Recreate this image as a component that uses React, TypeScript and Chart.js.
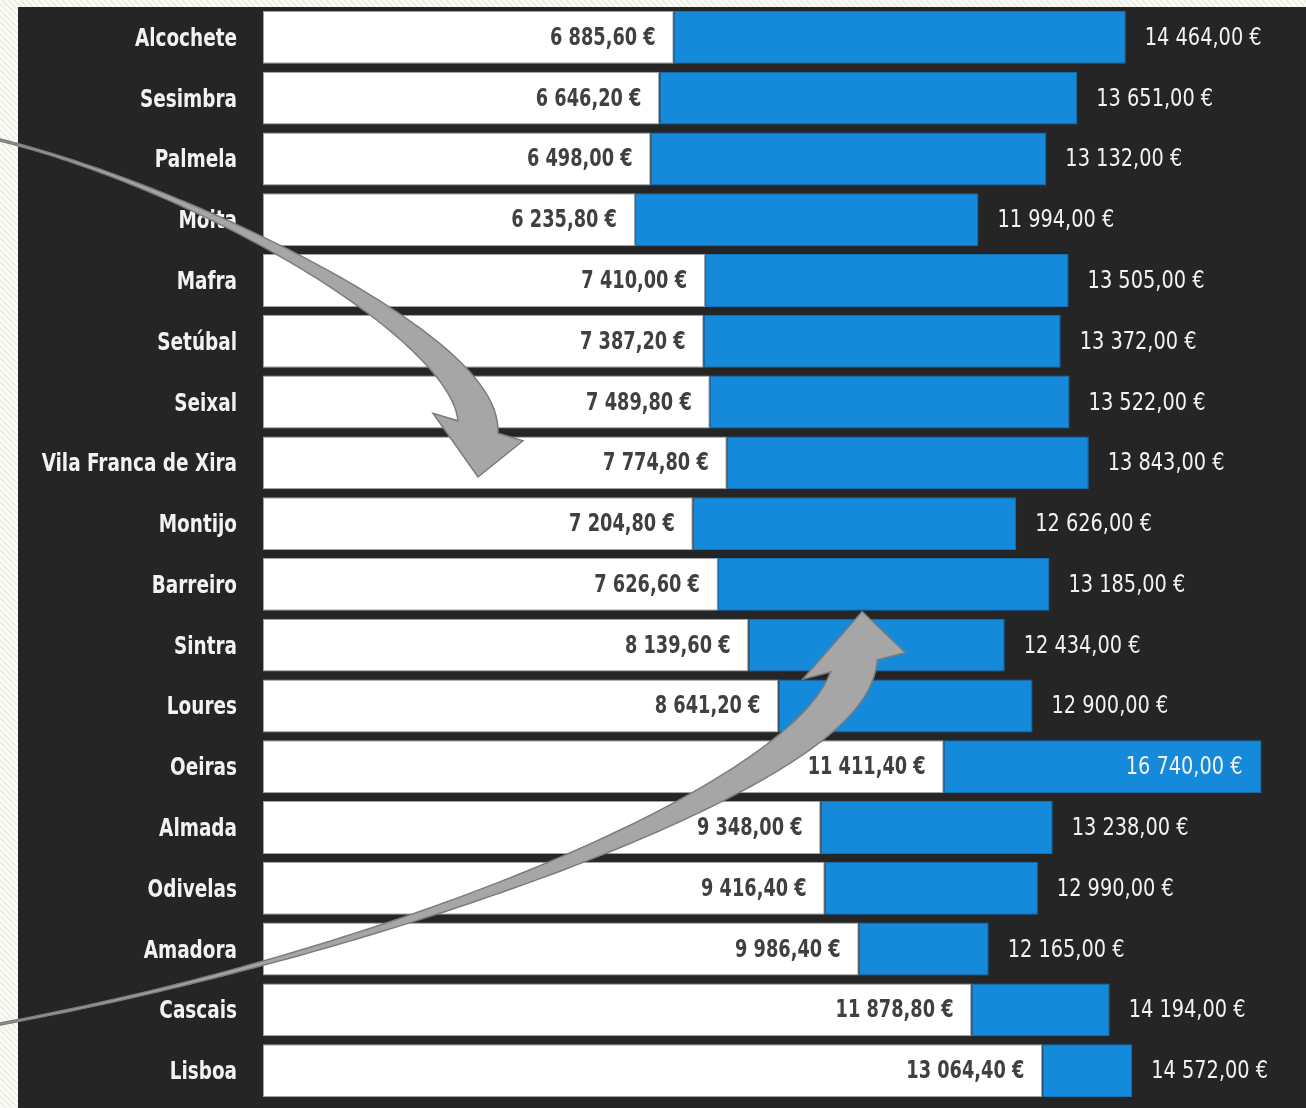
import React, { useEffect, useRef } from "react";
import { Chart, registerables } from "chart.js";

Chart.register(...registerables);

// ---------- data ----------
const categories = [
  "Alcochete", "Sesimbra", "Palmela", "Moita", "Mafra", "Setúbal", "Seixal",
  "Vila Franca de Xira", "Montijo", "Barreiro", "Sintra", "Loures", "Oeiras",
  "Almada", "Odivelas", "Amadora", "Cascais", "Lisboa",
];
const lowerValues = [
  6885.6, 6646.2, 6498.0, 6235.8, 7410.0, 7387.2, 7489.8, 7774.8, 7204.8,
  7626.6, 8139.6, 8641.2, 11411.4, 9348.0, 9416.4, 9986.4, 11878.8, 13064.4,
];
const upperValues = [
  14464, 13651, 13132, 11994, 13505, 13372, 13522, 13843, 12626, 13185,
  12434, 12900, 16740, 13238, 12990, 12165, 14194, 14572,
];
const axisMin = 0;
const axisMax = 17200;

// decorative curved arrows, given in data space (x = €, y = category index)
const arrowDown = {
  p: [[-4409, 1.688], [-1056, 2.511], [3604, 4.979], [3604, 6.41]],
  tailW: 2, endW: 42, barb: 47, head: 50, headRot: 17,
};
const arrowUp = {
  p: [[-4409, 16.232], [2297, 15.015], [9623, 12.217], [9908, 10.342]],
  tailW: 2, endW: 48, barb: 53, head: 55, headRot: -23,
};

const W = 1306;
const H = 1108;
const FONT = "'Liberation Sans Narrow', 'Arial Narrow', 'DejaVu Sans Condensed', 'DejaVu Sans', sans-serif";
const PAD = { left: 18, top: 7, right: 17, bottom: 7 };
const TICK_PAD = 26;
const CAT_SCALE = 0.82;
const LOW_SCALE = 0.79;
const UP_SCALE = 0.86;

function fmtEuro(v: number): string {
  const [i, d] = v.toFixed(2).split(".");
  const g = i.replace(/\B(?=(\d{3})+(?!\d))/g, " ");
  return `${g},${d} €`;
}

function scaledText(ctx: CanvasRenderingContext2D, text: string, x: number, y: number, align: CanvasTextAlign, sx: number) {
  ctx.save();
  ctx.translate(x, y);
  ctx.scale(sx, 1);
  ctx.textAlign = align;
  ctx.fillText(text, 0, 0);
  ctx.restore();
}

const backdrop = {
  id: "backdrop",
  beforeDraw(chart: any) {
    const { ctx, width, height } = chart;
    ctx.save();
    ctx.fillStyle = "#fbfcf8";
    ctx.fillRect(0, 0, width, height);
    ctx.strokeStyle = "#e6eddf";
    ctx.lineWidth = 1.5;
    for (let k = -height; k < width; k += 6) {
      ctx.beginPath();
      ctx.moveTo(k, 0);
      ctx.lineTo(k + height, height);
      ctx.stroke();
    }
    ctx.fillStyle = "#252525";
    ctx.fillRect(PAD.left, PAD.top, width - PAD.left, height - PAD.top);
    ctx.restore();

    // condense the category tick labels drawn by the y axis
    const s = chart.scales.y;
    if (s && !s.__condensed) {
      const orig = s.drawLabels.bind(s);
      s.drawLabels = (area: any) => {
        const c = chart.ctx;
        const ax = s.right - TICK_PAD;
        const savedLeft = s.left;
        s.left = -2000; // widen the label clip area so the condensed text is not cut
        c.save();
        c.translate(ax, 2);
        c.scale(CAT_SCALE, 1);
        c.translate(-ax, 0);
        orig(area);
        c.restore();
        s.left = savedLeft;
      };
      s.__condensed = true;
    }
  },
};

const valueLabels = {
  id: "valueLabels",
  afterDatasetsDraw(chart: any) {
    const { ctx } = chart;
    const xs = chart.scales.x;
    const ys = chart.scales.y;
    ctx.save();
    ctx.textBaseline = "middle";
    categories.forEach((_, i) => {
      const y = ys.getPixelForValue(i) + 1;
      // lower value, inside end of white bar
      ctx.font = `bold 25px ${FONT}`;
      ctx.fillStyle = "#404040";
      scaledText(ctx, fmtEuro(lowerValues[i]), xs.getPixelForValue(lowerValues[i]) - 18, y, "right", LOW_SCALE);
      // upper value, outside end of blue bar (inside if no room)
      ctx.font = `25px ${FONT}`;
      ctx.fillStyle = "#f2f2f2";
      const t = fmtEuro(upperValues[i]);
      const xe = xs.getPixelForValue(upperValues[i]);
      const w = ctx.measureText(t).width * UP_SCALE;
      if (xe + 19 + w > chart.width - 4) {
        scaledText(ctx, t, xe - 19, y, "right", UP_SCALE);
      } else {
        scaledText(ctx, t, xe + 19, y, "left", UP_SCALE);
      }
    });
    ctx.restore();
  },
};

function rot(v: number[], deg: number): number[] {
  const a = (deg * Math.PI) / 180;
  const c = Math.cos(a), s = Math.sin(a);
  return [v[0] * c - v[1] * s, v[0] * s + v[1] * c];
}

function drawArrow(ctx: CanvasRenderingContext2D, chart: any, a: any) {
  const xs = chart.scales.x;
  const ys = chart.scales.y;
  const P = a.p.map(([v, c]: number[]) => [xs.getPixelForValue(v), ys.getPixelForValue(c)]);
  const bez = (t: number) => {
    const u = 1 - t;
    const b0 = u * u * u, b1 = 3 * u * u * t, b2 = 3 * u * t * t, b3 = t * t * t;
    return [
      b0 * P[0][0] + b1 * P[1][0] + b2 * P[2][0] + b3 * P[3][0],
      b0 * P[0][1] + b1 * P[1][1] + b2 * P[2][1] + b3 * P[3][1],
    ];
  };
  const der = (t: number) => {
    const u = 1 - t;
    const dx = 3 * (u * u * (P[1][0] - P[0][0]) + 2 * u * t * (P[2][0] - P[1][0]) + t * t * (P[3][0] - P[2][0]));
    const dy = 3 * (u * u * (P[1][1] - P[0][1]) + 2 * u * t * (P[2][1] - P[1][1]) + t * t * (P[3][1] - P[2][1]));
    const l = Math.hypot(dx, dy) || 1;
    return [dx / l, dy / l];
  };
  const N = 100;
  const left: number[][] = [];
  const right: number[][] = [];
  for (let k = 0; k <= N; k++) {
    const t = k / N;
    const [x, y] = bez(t);
    const [dx, dy] = der(t);
    const n = rot([-dy, dx], a.headRot * Math.pow(t, 6));
    const hw = a.tailW / 2 + (a.endW / 2 - a.tailW / 2) * t * t;
    left.push([x + n[0] * hw, y + n[1] * hw]);
    right.push([x - n[0] * hw, y - n[1] * hw]);
  }
  const [ex, ey] = bez(1);
  const [dx, dy] = der(1);
  const n = rot([-dy, dx], a.headRot);
  ctx.save();
  ctx.beginPath();
  ctx.moveTo(left[0][0], left[0][1]);
  left.forEach((p) => ctx.lineTo(p[0], p[1]));
  ctx.lineTo(ex + n[0] * a.barb, ey + n[1] * a.barb);
  ctx.lineTo(ex + dx * a.head, ey + dy * a.head);
  ctx.lineTo(ex - n[0] * a.barb, ey - n[1] * a.barb);
  for (let k = right.length - 1; k >= 0; k--) ctx.lineTo(right[k][0], right[k][1]);
  ctx.closePath();
  ctx.fillStyle = "#a6a6a6";
  ctx.fill();
  ctx.lineWidth = 1.5;
  ctx.strokeStyle = "#7c7c7c";
  ctx.lineJoin = "miter";
  ctx.stroke();
  ctx.restore();
}

const arrows = {
  id: "arrows",
  afterDraw(chart: any) {
    drawArrow(chart.ctx, chart, arrowDown);
    drawArrow(chart.ctx, chart, arrowUp);
  },
};

export default function App() {
  const ref = useRef<HTMLCanvasElement | null>(null);
  useEffect(() => {
    if (!ref.current) return;
    const chart = new Chart(ref.current, {
      type: "bar",
      data: {
        labels: categories,
        datasets: [
          {
            label: "Mínimo",
            data: lowerValues.map((v) => [0, v]),
            backgroundColor: "#ffffff",
            borderColor: "#a3a3a3",
            borderWidth: 1,
            borderSkipped: false,
            grouped: false,
            order: 1,
          } as any,
          {
            label: "Máximo",
            data: lowerValues.map((v, i) => [v, upperValues[i]]),
            backgroundColor: "#158ADB",
            borderColor: "#1273BD",
            borderWidth: 1,
            borderSkipped: false,
            grouped: false,
            order: 2,
          } as any,
        ],
      },
      options: {
        indexAxis: "y",
        responsive: false,
        animation: false,
        events: [],
        layout: { padding: PAD },
        datasets: { bar: { barPercentage: 0.87, categoryPercentage: 1 } },
        plugins: { legend: { display: false }, tooltip: { enabled: false } },
        scales: {
          x: { display: false, min: axisMin, max: axisMax },
          y: {
            grid: { display: false, drawTicks: false },
            border: { display: false },
            ticks: {
              autoSkip: false,
              color: "#f2f2f2",
              padding: TICK_PAD,
              font: { family: FONT, size: 25, weight: "bold" },
            },
            afterFit(s: any) {
              s.width = 245;
              s.paddingTop = 0;
              s.paddingBottom = 0;
            },
          },
        },
      } as any,
      plugins: [backdrop, valueLabels, arrows],
    });
    return () => chart.destroy();
  }, []);
  return (
    <div style={{ position: "fixed", left: 0, top: 0, width: W, height: H, overflow: "hidden" }}>
      <canvas ref={ref} width={W} height={H} style={{ display: "block", width: W, height: H }} />
    </div>
  );
}
